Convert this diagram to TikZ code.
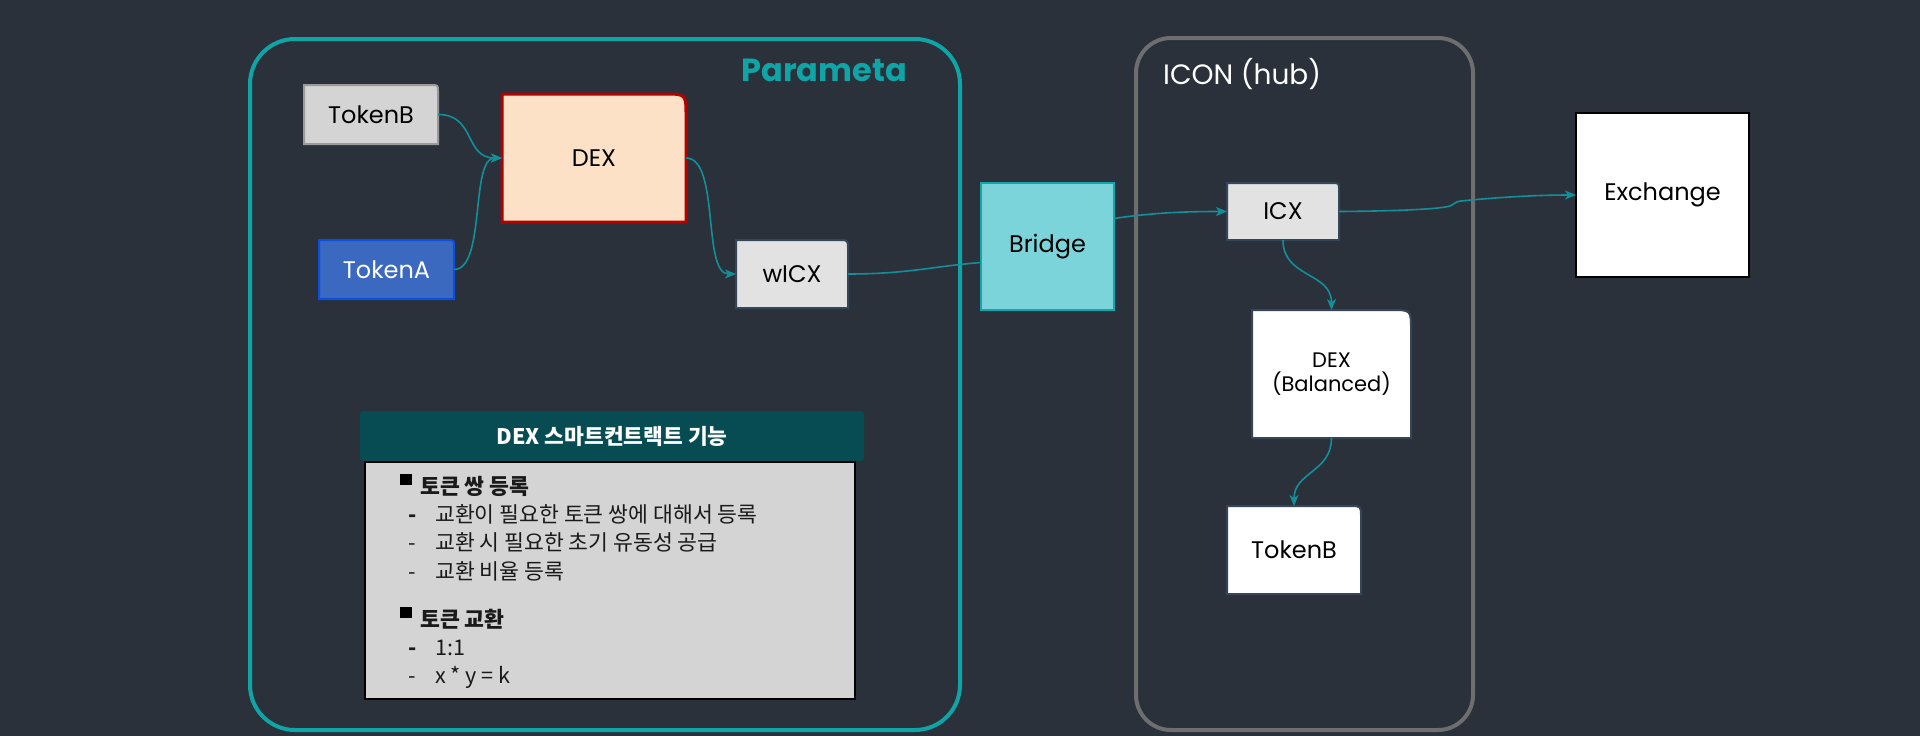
\documentclass[tikz,border=0pt]{standalone}
\usepackage{fontspec}
\setmainfont{Poppins}
\newfontfamily\kr{Noto Sans CJK KR}
\usetikzlibrary{arrows.meta}
\pgfdeclarelayer{bg}
\pgfdeclarelayer{shp}
\pgfsetlayers{bg,shp,main}
\definecolor{bgc}{HTML}{2A313B}
\definecolor{paramc}{HTML}{0FA4A6}
\definecolor{iconc}{HTML}{6E6E6E}
\definecolor{edgec}{HTML}{138F9A}
\definecolor{tokbfill}{HTML}{D4D4D4}
\definecolor{tokbdraw}{HTML}{9A9A9A}
\definecolor{dexfill}{HTML}{FCE1C7}
\definecolor{dexdraw}{HTML}{B50000}
\definecolor{tokafill}{HTML}{3B69C0}
\definecolor{tokadraw}{HTML}{0A4FE0}
\definecolor{lightfill}{HTML}{E2E2E2}
\definecolor{nodedraw}{HTML}{36465A}
\definecolor{bridgefill}{HTML}{7AD4D9}
\definecolor{bridgedraw}{HTML}{16A6AA}
\definecolor{hdrc}{HTML}{074C52}
\definecolor{bodyfill}{HTML}{D4D4D4}
\definecolor{bodytext}{HTML}{1A1A1A}
\newcommand\TRshape[3]{\path[#1] (#2.south west) -- (#2.north west) -- ([xshift=-#3]#2.north east) .. controls (#2.north east) .. ([yshift=-#3]#2.north east) -- (#2.south east) -- cycle;}
\begin{document}
\begin{tikzpicture}[x=1pt,y=-1pt,
  box/.style={rectangle, inner sep=0pt, outer sep=0pt, font=\fontsize{24}{28}\selectfont, text=black, align=center},
  conn/.style={draw=edgec, line width=1.6pt},
  arr/.style={conn, -{Stealth[length=11pt,width=9pt,inset=3pt]}},
  kline/.style={inner sep=0pt, anchor=base west, text=bodytext, font=\kr\fontsize{21.6}{25}\selectfont},
  sq/.style={fill=black, minimum width=12pt, minimum height=11pt, inner sep=0pt}
]
\begin{pgfonlayer}{bg}
\fill[bgc] (0,0) rectangle (1920,736);
\end{pgfonlayer}
\useasboundingbox (0,0) rectangle (1920,736);

% containers
\node[draw=paramc, line width=4pt, rounded corners=45pt, minimum width=710pt, minimum height=691pt, inner sep=0pt] (param) at (605,384.5) {};
\node[draw=iconc, line width=4pt, rounded corners=35pt, minimum width=337pt, minimum height=692pt, inner sep=0pt] (icon) at (1304.5,384) {};
\node[font=\fontsize{32}{37}\selectfont\bfseries, text=paramc, anchor=east, inner sep=0pt] (paramlbl) at (907,70) {Parameta};
\node[font=\fontsize{28}{32}\selectfont, text=white, anchor=west, inner sep=0pt] (iconlbl) at (1163,74) {ICON (hub)};

% nodes
\node[box, minimum width=134pt, minimum height=59pt] (tokb) at (371,114.5) {TokenB};
\node[box, minimum width=184pt, minimum height=128pt] (dex) at (594,158) {DEX};
\node[box, minimum width=135pt, minimum height=59pt, text=white] (toka) at (386.5,269.5) {TokenA};
\node[box, minimum width=112pt, minimum height=68pt] (wicx) at (792,274) {wICX};
\node[box, minimum width=133pt, minimum height=127pt, fill=bridgefill, draw=bridgedraw, line width=2pt] (bridge) at (1047.5,246.5) {Bridge};
\node[box, minimum width=112pt, minimum height=57pt] (icx) at (1283,211.5) {ICX};
\node[box, minimum width=173pt, minimum height=164pt, fill=white, draw=black, line width=2.2pt] (exch) at (1662.5,195) {Exchange};
\node[box, minimum width=159pt, minimum height=128pt, font=\fontsize{21}{24}\selectfont] (dexb) at (1331.5,374) {DEX\\(Balanced)};
\node[box, minimum width=134pt, minimum height=88pt] (tokbr) at (1294,550) {TokenB};

\begin{pgfonlayer}{shp}
\TRshape{fill=tokbfill, draw=tokbdraw, line width=2pt}{tokb}{7pt}
\TRshape{fill=dexfill, draw=dexdraw, line width=3pt}{dex}{22pt}
\TRshape{fill=tokafill, draw=tokadraw, line width=2pt}{toka}{7pt}
\TRshape{fill=lightfill, draw=nodedraw, line width=2pt}{wicx}{9pt}
\TRshape{fill=lightfill, draw=nodedraw, line width=2pt}{icx}{7pt}
\TRshape{fill=white, draw=nodedraw, line width=2pt}{dexb}{20pt}
\TRshape{fill=white, draw=nodedraw, line width=2pt}{tokbr}{11pt}
\end{pgfonlayer}

% info panel
\node[fill=bodyfill, draw=black, line width=2pt, minimum width=490pt, minimum height=237pt, inner sep=0pt] (body) at (610,580.5) {};
\node[fill=hdrc, rounded corners=3pt, minimum width=504pt, minimum height=50pt, inner sep=0pt, text=white, font=\kr\bfseries\fontsize{21.5}{25}\selectfont] (hdr) at (612,436) {DEX 스마트컨트랙트 기능};
\node[sq] (sq1) at (406,479.5) {};
\node[kline, font=\kr\bfseries\fontsize{21.6}{25}\selectfont] (h1) at (420,494) {토큰 쌍 등록};
\node[kline] (l1) at (408,522.5) {\makebox[27pt][l]{\bfseries -}교환이 필요한 토큰 쌍에 대해서 등록};
\node[kline] (l2) at (408,550.8) {\makebox[27pt][l]{-}교환 시 필요한 초기 유동성 공급};
\node[kline] (l3) at (408,579) {\makebox[27pt][l]{-}교환 비율 등록};
\node[sq] (sq2) at (406,612.5) {};
\node[kline, font=\kr\bfseries\fontsize{21.6}{25}\selectfont] (h2) at (420,627) {토큰 교환};
\node[kline] (l4) at (408,655) {\makebox[27pt][l]{\bfseries -}1:1};
\node[kline] (l5) at (408,683) {\makebox[27pt][l]{-}x * y = k};

% connectors
\draw[arr] (tokb.east) .. controls +(38,0) and +(-38,0) .. (dex.west);
\draw[arr] (toka.east) .. controls +(32,0) and +(-32,0) .. (dex.west);
\draw[arr] (dex.east) .. controls +(34,0) and +(-34,0) .. (wicx.west);
\draw[conn] (wicx.east) .. controls +(60,0) and +(-50,4) .. ([yshift=-16pt]bridge.west);
\draw[arr] ([yshift=28pt]bridge.east) .. controls +(40,-6) and +(-40,0) .. (icx.west);
\coordinate (k1) at (1450,206);
\coordinate (k2) at (1461,201);
\draw[arr] (icx.east) .. controls (1400,211) and (1440,209) .. (k1) .. controls (1455,204) and (1455,201.5) .. (k2) .. controls (1500,197) and (1540,195) .. (exch.west);
\draw[arr] (icx.south) .. controls +(0,38) and +(0,-38) .. (dexb.north);
\draw[arr] (dexb.south) .. controls +(0,34) and +(0,-34) .. (tokbr.north);
\end{tikzpicture}
\end{document}
